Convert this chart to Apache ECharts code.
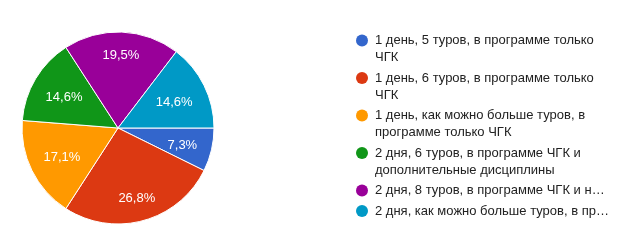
<!DOCTYPE html>
<html>
<head>
<meta charset="utf-8">
<script src="https://cdn.jsdelivr.net/npm/echarts@6/dist/echarts.min.js"></script>
<style>
html,body{margin:0;padding:0;background:#fff;}
#c{width:626px;height:243px;}
</style>
</head>
<body>
<div id="c"></div>
<script>
// Categories (as displayed in the legend, line by line)
var categories = [
  '1 день, 5 туров, в программе только ЧГК',
  '1 день, 6 туров, в программе только ЧГК',
  '1 день, как можно больше туров, в программе только ЧГК',
  '2 дня, 6 туров, в программе ЧГК и дополнительные дисциплины',
  '2 дня, 8 туров, в программе ЧГК и н…',
  '2 дня, как можно больше туров, в пр…'
];
var legendLines = [
  ['1 день, 5 туров, в программе только', 'ЧГК'],
  ['1 день, 6 туров, в программе только', 'ЧГК'],
  ['1 день, как можно больше туров, в', 'программе только ЧГК'],
  ['2 дня, 6 туров, в программе ЧГК и', 'дополнительные дисциплины'],
  ['2 дня, 8 туров, в программе ЧГК и н…'],
  ['2 дня, как можно больше туров, в пр…']
];
// Percent share of each answer
var values = [7.3, 26.8, 17.1, 14.6, 19.5, 14.6];
var colors = ['#3366cc', '#dc3912', '#ff9900', '#109618', '#990099', '#0099c6'];

var FONT = '"Liberation Sans", Arial, sans-serif';
var CX = 118, CY = 128, R = 96, LABEL_EXTENT = 82, LABEL_DY = 2;

var chart = echarts.init(document.getElementById('c'), null, {renderer: 'canvas'});

var mainData = categories.map(function (n, i) {
  return {name: n, value: values[i], itemStyle: {color: colors[i]}};
});

var rich = {
  g: {width: 7},
  ind: {width: 19},
  t: {fontSize: 13, fontFamily: FONT, color: '#222', lineHeight: 17}
};
colors.forEach(function (c, i) {
  rich['d' + i] = {width: 12, height: 12, borderRadius: 6, backgroundColor: c};
});

var option = {
  backgroundColor: '#fff',
  animation: false,
  color: colors,
  legend: {
    orient: 'vertical',
    left: 351,
    top: 32,
    padding: 0,
    itemGap: 3.5,
    itemWidth: 0,
    itemHeight: 12,
    icon: 'none',
    selectedMode: false,
    data: categories,
    textStyle: {fontSize: 13, fontFamily: FONT, color: '#222', lineHeight: 17, rich: rich},
    formatter: function (name) {
      var i = categories.indexOf(name);
      var lines = legendLines[i];
      var s = '{d' + i + '|}{g|}{t|' + lines[0] + '}';
      for (var k = 1; k < lines.length; k++) {
        s += '\n{ind|}{t|' + lines[k] + '}';
      }
      return s;
    }
  },
  series: [
    {
      type: 'pie',
      center: [CX, CY],
      radius: [0, R],
      startAngle: 0,
      clockwise: true,
      avoidLabelOverlap: false,
      itemStyle: {borderColor: '#fff', borderWidth: 1},
      label: {
        show: true,
        position: 'inside',
        color: '#fff',
        fontSize: 13,
        fontFamily: FONT,
        formatter: function (p) {
          return p.value.toFixed(1).replace('.', ',') + '%';
        }
      },
      labelLine: {show: false},
      labelLayout: function (params) {
        var r = params.labelRect;
        var lx = r.x + r.width / 2, ly = r.y + r.height / 2;
        var dx = lx - CX, dy = ly - CY;
        var d = Math.sqrt(dx * dx + dy * dy) || 1;
        var ux = dx / d, uy = dy / d;
        var ext = Math.abs(ux) * r.width / 2 + Math.abs(uy) * r.height / 2;
        var t = LABEL_EXTENT - ext;
        return {x: CX + ux * t, y: CY + uy * t + LABEL_DY, align: 'center', verticalAlign: 'middle'};
      },
      emphasis: {disabled: true},
      data: mainData
    }
  ]
};
chart.setOption(option);
</script>
</body>
</html>
